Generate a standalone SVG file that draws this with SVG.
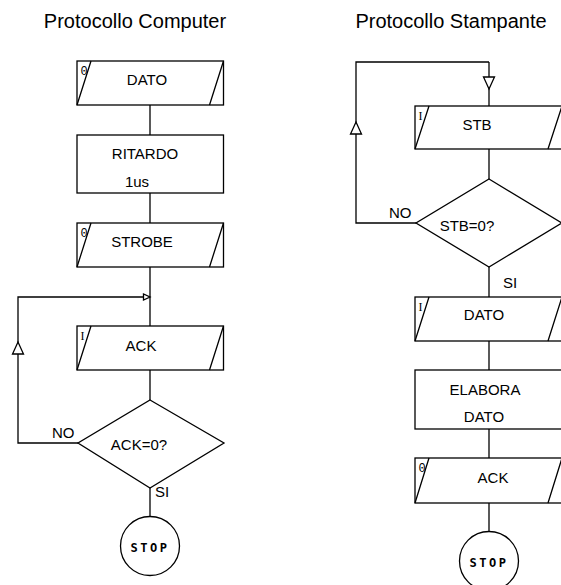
<svg xmlns="http://www.w3.org/2000/svg" width="561" height="585" viewBox="0 0 561 585">
<style>
.s{fill:#fff;stroke:#000;stroke-width:1.3}
.l{fill:none;stroke:#000;stroke-width:1.3}
.t{font-family:"Liberation Sans",Arial,sans-serif;font-size:15px;fill:#000}
.h{font-family:"Liberation Sans",Arial,sans-serif;font-size:20px;fill:#000;text-anchor:middle}
.c{text-anchor:middle}
.m{font-family:"Liberation Mono","DejaVu Sans Mono",monospace;font-size:12px;fill:#000}
.i{font-family:"Liberation Serif",serif;font-size:12px;fill:#000}
.st{font-family:"DejaVu Sans Mono",monospace;font-size:12px;font-weight:bold;letter-spacing:2.5px;fill:#000;text-anchor:middle}
</style>
<rect width="561" height="585" fill="#fff"/>
<text class="h" x="135" y="28">Protocollo Computer</text>
<text class="h" x="451" y="28">Protocollo Stampante</text>

<g id="connectors">
<line class="l" x1="150" y1="105" x2="150" y2="135"/>
<line class="l" x1="150" y1="193" x2="150" y2="223"/>
<line class="l" x1="150" y1="267" x2="150" y2="326"/>
<line class="l" x1="150" y1="370" x2="150" y2="400"/>
<line class="l" x1="150" y1="488" x2="150" y2="517"/>
<polyline class="l" points="78,443 18,443 18,297 150,297"/>
<polygon class="s" points="12.5,354 23.5,354 18,342"/>
<polygon class="s" points="143.5,294 143.5,300 150,297" fill="#000"/>
<line class="l" x1="489" y1="62" x2="489" y2="106"/>
<line class="l" x1="489" y1="149" x2="489" y2="179"/>
<line class="l" x1="489" y1="267" x2="489" y2="297"/>
<line class="l" x1="489" y1="341" x2="489" y2="370"/>
<line class="l" x1="489" y1="429" x2="489" y2="458"/>
<line class="l" x1="489" y1="503" x2="489" y2="532"/>
<polyline class="l" points="416,223 356,223 356,62 489,62"/>
<polygon class="s" points="350.5,134 361.5,134 356,122"/>
<polygon class="s" points="483.5,77 494.5,77 489,89"/>
<text class="t" x="52" y="438">NO</text>
<text class="t" x="155" y="497">SI</text>
<text class="t" x="389" y="218">NO</text>
<text class="t" x="503" y="288">SI</text>
</g>

<g id="dato-c">
<rect class="s" x="77" y="61" width="146.5" height="44"/>
<path class="l" d="M91,61 L77,105 M223.5,61 L209.5,105"/>
<text class="m" x="80.5" y="75">0</text>
<text class="t c" x="147" y="85">DATO</text>
</g>
<g id="ritardo">
<rect class="s" x="77" y="135" width="146.5" height="58"/>
<text class="t c" x="145" y="159">RITARDO</text>
<text class="t c" x="137" y="187">1us</text>
</g>
<g id="strobe">
<rect class="s" x="77" y="223" width="146.5" height="44"/>
<path class="l" d="M91,223 L77,267 M223.5,223 L209.5,267"/>
<text class="m" x="80.5" y="237">0</text>
<text class="t c" x="142" y="247">STROBE</text>
</g>
<g id="ack-c">
<rect class="s" x="77" y="326" width="146.5" height="44"/>
<path class="l" d="M91,326 L77,370 M223.5,326 L209.5,370"/>
<text class="i" x="80.5" y="340">I</text>
<text class="t c" x="141" y="351">ACK</text>
</g>
<g id="ack0">
<polygon class="s" points="150,400 224,443 150,488 78,443"/>
<text class="t c" x="139" y="450">ACK=0?</text>
</g>
<g id="stop-c">
<circle class="s" cx="150" cy="546" r="29.5"/>
<text class="st" x="150" y="552">STOP</text>
</g>

<g id="stb">
<rect class="s" x="415" y="106" width="147" height="43"/>
<path class="l" d="M429,106 L415,149 M562,106 L548,149"/>
<text class="i" x="418.5" y="120">I</text>
<text class="t c" x="477" y="130">STB</text>
</g>
<g id="stb0">
<polygon class="s" points="489,179 562,223 489,267 416,223"/>
<text class="t c" x="467" y="231">STB=0?</text>
</g>
<g id="dato-s">
<rect class="s" x="415" y="297" width="147" height="44"/>
<path class="l" d="M429,297 L415,341 M562,297 L548,341"/>
<text class="i" x="418.5" y="311">I</text>
<text class="t c" x="484" y="320">DATO</text>
</g>
<g id="elabora">
<rect class="s" x="415" y="370" width="147" height="59"/>
<text class="t c" x="485" y="395">ELABORA</text>
<text class="t c" x="484" y="422">DATO</text>
</g>
<g id="ack-s">
<rect class="s" x="415" y="458" width="147" height="45"/>
<path class="l" d="M429,458 L415,503 M562,458 L548,503"/>
<text class="m" x="418.5" y="472">0</text>
<text class="t c" x="493" y="483">ACK</text>
</g>
<g id="stop-s">
<circle class="s" cx="489" cy="561" r="29.5"/>
<text class="st" x="489" y="567">STOP</text>
</g>
</svg>
